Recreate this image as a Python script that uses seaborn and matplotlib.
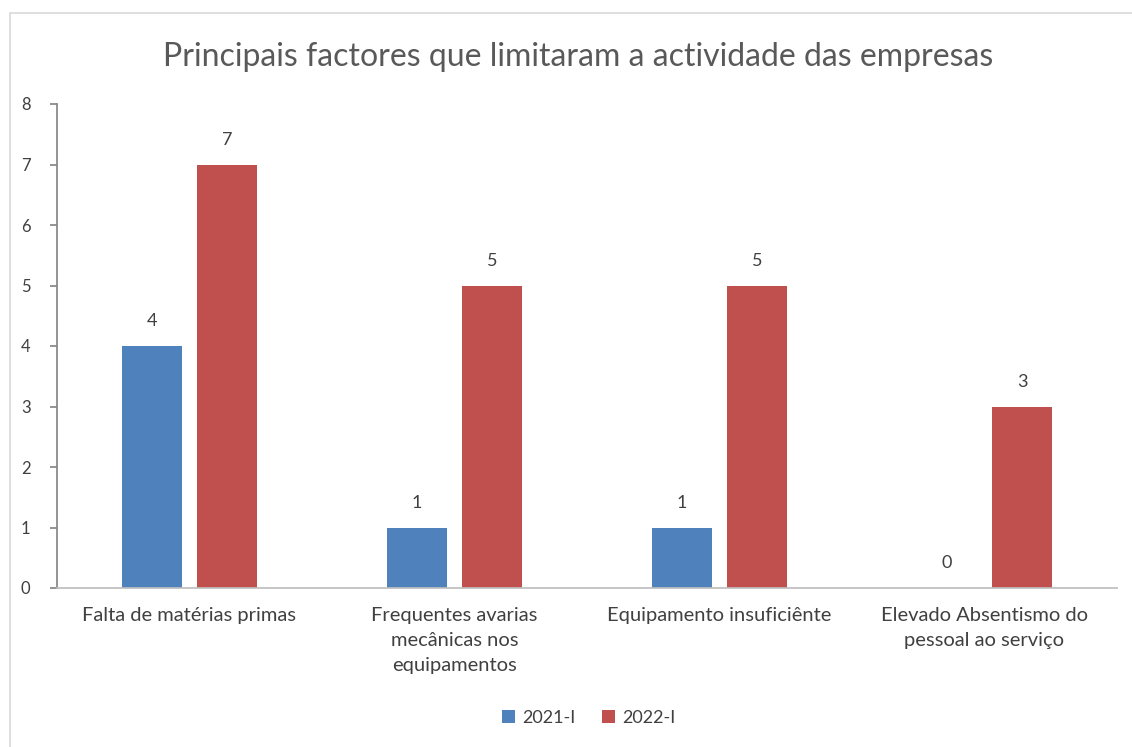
import numpy as np
import pandas as pd
import matplotlib
matplotlib.use('Agg')
import matplotlib.pyplot as plt
from matplotlib.patches import Rectangle
import seaborn as sns

categorias = ['Falta de matérias primas',
              'Frequentes avarias\nmecânicas nos\nequipamentos',
              'Equipamento insuficiênte',
              'Elevado Absentismo do\npessoal ao serviço']
periodos = ['2021-I', '2022-I']
valores_2021 = [4, 1, 1, 0]
valores_2022 = [7, 5, 5, 3]
cores = ['#4F81BD', '#C0504D']

sns.set_theme(style='white')
plt.rcParams['font.family'] = ['Lato', 'DejaVu Sans']

df = pd.DataFrame({
    'categoria': categorias * 2,
    'periodo': [periodos[0]] * 4 + [periodos[1]] * 4,
    'valor': valores_2021 + valores_2022,
})

fig = plt.figure(figsize=(11.32, 7.47), dpi=100)
# moldura cinzenta do gráfico
fig.patches.append(Rectangle((10 / 1132, -0.05), 1.2, 1 - 13 / 747 + 0.05,
                             transform=fig.transFigure, fill=False,
                             edgecolor='#d9d9d9', linewidth=1.2))
ax = fig.add_axes([57 / 1132, 1 - 588 / 747, 1060 / 1132, 484 / 747])

sns.barplot(data=df, x='categoria', y='valor', hue='periodo', palette=cores,
            saturation=1, width=0.566, gap=0.2, linewidth=0, ax=ax, legend=True)

for cont in ax.containers:
    ax.bar_label(cont, fmt='%d', padding=12, fontsize=13, color='#404040')

ax.set_ylim(0, 8)
ax.set_yticks(range(0, 9))
ax.set_xlim(-0.5, 3.5)
ax.set_xlabel('')
ax.set_ylabel('')
ax.tick_params(axis='y', left=True, length=5, color='#868686', labelsize=12,
               labelcolor='#404040', pad=14)
ax.tick_params(axis='x', bottom=False, labelsize=14.5, labelcolor='#404040', pad=8)
for lbl in ax.get_xticklabels():
    lbl.set_linespacing(1.55)
for s in ['top', 'right']:
    ax.spines[s].set_visible(False)
ax.spines['left'].set_color('#868686')
ax.spines['bottom'].set_color('#bfbfbf')
ax.spines['bottom'].set_linestyle((0, (1, 1)))

fig.text(0.511, 1 - 57 / 747, 'Principais factores que limitaram a actividade das empresas',
         ha='center', va='center', fontsize=23, color='#595959')

leg = ax.legend(loc='center', bbox_to_anchor=(0.52, 1 - 718 / 747), bbox_transform=fig.transFigure,
                ncol=2, frameon=False, fontsize=13, handlelength=0.7, handleheight=0.7,
                handletextpad=0.4, columnspacing=1.5)
for t in leg.get_texts():
    t.set_color('#404040')

fig.savefig('out.png', dpi=100)
